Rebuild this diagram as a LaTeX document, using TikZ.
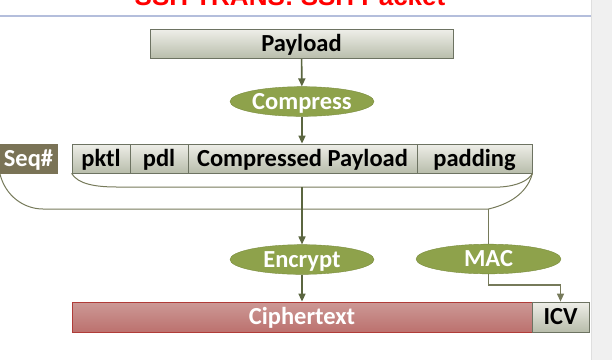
\documentclass[tikz,border=0pt]{standalone}
\usepackage{fontspec}
\setmainfont{Carlito}
\newfontfamily\titlefont{Liberation Sans}
\usetikzlibrary{arrows.meta, calc, shapes.geometric}

\definecolor{fieldtop}{HTML}{EEEEE8}
\definecolor{fieldbot}{HTML}{B8BDAB}
\definecolor{fieldedge}{HTML}{6D7362}
\definecolor{seqfill}{HTML}{7A7356}
\definecolor{ovalfill}{HTML}{8EA24B}
\definecolor{ovaledge}{HTML}{7A8C3E}
\definecolor{ciphtop}{HTML}{CC9996}
\definecolor{ciphbot}{HTML}{BC716E}
\definecolor{ciphedge}{HTML}{B03C38}
\definecolor{flowdark}{HTML}{5B6640}
\definecolor{bracegray}{HTML}{767A5A}
\definecolor{rulecol}{HTML}{B4BEDC}

\begin{document}
\begin{tikzpicture}[x=1pt, y=-1pt, >={Triangle[length=8pt, width=7pt]},
  every node/.style={font=\fontsize{24.5}{26}\selectfont\bfseries, inner sep=0pt, text height=18pt, text depth=3pt},
  field/.style={draw=fieldedge, line width=0.8pt, top color=fieldtop, bottom color=fieldbot, minimum height=29pt},
  procoval/.style={ellipse, draw=ovaledge, fill=ovalfill, text=white, minimum height=29pt},
  flow/.style={draw=flowdark, line width=1.6pt},
  brace/.style={draw=bracegray, line width=1pt}]
  \useasboundingbox (0,0) rectangle (612,360);
  % slide frame
  \fill[gray!12] (591,0) rectangle (612,360);
  \draw[gray!25, line width=1pt] (591.5,0) -- (591.5,360);
  \draw[rulecol, line width=1.5pt] (0,16) -- (591,16);
  \node[font=\titlefont\fontsize{26}{28}\selectfont\bfseries, text=red, anchor=base] (title) at (290,5) {SSH TRANS: SSH Packet};
  % boxes
  \node[field, minimum width=303pt] (payload) at (301.5,44) {Payload};
  \node[procoval, minimum width=144pt] (compress) at (302,101.5) {Compress};
  \node[draw=seqfill, fill=seqfill, text=white, minimum width=57pt, minimum height=29pt] (seq) at (28.5,158.5) {Seq\#};
  \node[field, minimum width=58pt] (pktl) at (101,158.5) {pktl};
  \node[field, minimum width=58pt] (pdl) at (159,158.5) {pdl};
  \node[field, minimum width=229pt] (cpayload) at (302.5,158.5) {Compressed Payload};
  \node[field, minimum width=115pt] (padding) at (474.5,158.5) {padding};
  \node[procoval, minimum width=144pt] (encrypt) at (302,259.5) {Encrypt};
  \node[procoval, minimum width=145pt] (mac) at (488.5,259) {MAC};
  \node[draw=ciphedge, line width=0.8pt, top color=ciphtop, bottom color=ciphbot, text=white, minimum width=460pt, minimum height=30pt] (cipher) at (302,317) {Ciphertext};
  \node[field, minimum width=57pt, minimum height=30pt] (icv) at (560.5,317) {ICV};
  % braces
  \coordinate (inL) at (117,187);
  \coordinate (inR) at (500,187);
  \coordinate (outL) at (43,209);
  \coordinate (outR) at (mac.north |- 0,209);
  \coordinate (tapenc) at (encrypt.north |- inL);
  \draw[brace] (pktl.south west) .. controls (78,184) and (95,187) .. (inL) -- (inR) .. controls (518,186) and (529,180) .. (padding.south east);
  \draw[brace] (seq.south west) .. controls (5,196) and (24,209) .. (outL) -- (outR) .. controls (514,203) and (528,190) .. (padding.south east);
  % flow
  \draw[flow, ->] (payload) -- (compress);
  \draw[flow, ->] (compress) -- (compress |- cpayload.north);
  \draw[flow, ->] (tapenc) -- (encrypt);
  \draw[flow, ->] (encrypt) -- (encrypt |- cipher.north);
  \draw[brace] (outR) -- (mac);
  \draw[brace, line width=1.3pt, ->] (mac.south) -- ++(0,11) -| (icv.north);
\end{tikzpicture}
\end{document}
